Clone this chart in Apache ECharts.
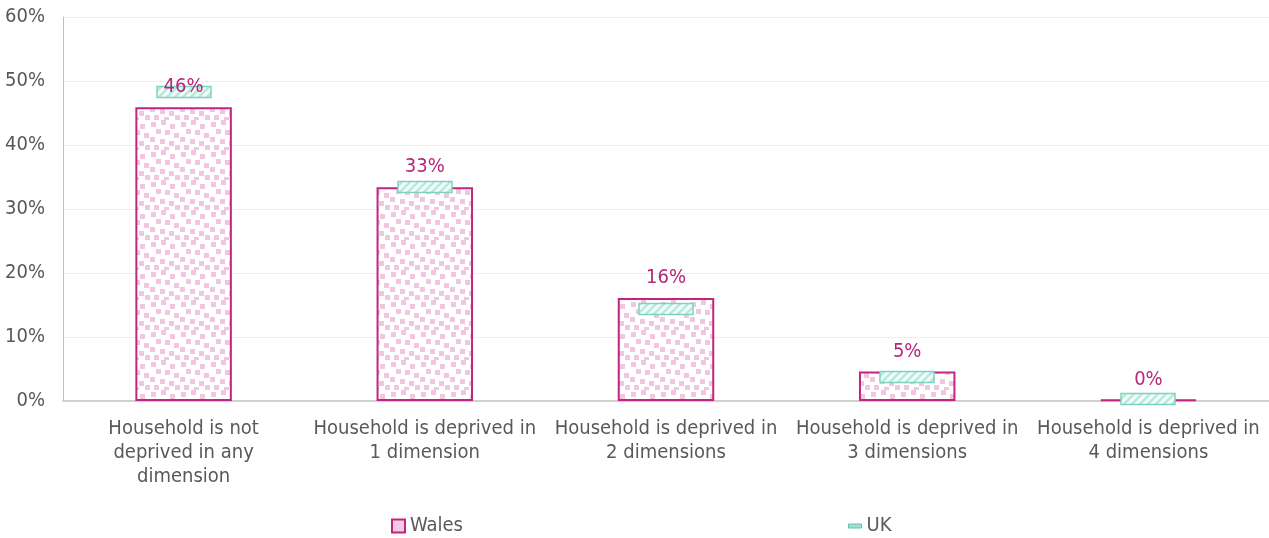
<!DOCTYPE html>
<html>
<head>
<meta charset="utf-8">
<script src="https://cdn.jsdelivr.net/npm/echarts@6/dist/echarts.min.js"></script>
<style>
  html, body { margin: 0; padding: 0; background: #fff; }
  #chart { width: 1269px; height: 538px; }
</style>
</head>
<body>
<div id="chart"></div>
<script>
// data
var categories = [
  'Household is not\ndeprived in any\ndimension',
  'Household is deprived in\n1 dimension',
  'Household is deprived in\n2 dimensions',
  'Household is deprived in\n3 dimensions',
  'Household is deprived in\n4 dimensions'
];
var walesValues = [45.9, 33.4, 16.1, 4.6, 0.2];
var ukValues = [48.3, 33.5, 14.4, 3.8, 0.3];
var yTicks = [0, 10, 20, 30, 40, 50, 60];

var FONT = '"DejaVu Sans Condensed", "DejaVu Sans", sans-serif';

// pink dotted fill for Wales bars
function dotPattern() {
  var c = document.createElement('canvas');
  c.width = 30; c.height = 30;
  var ctx = c.getContext('2d');
  ctx.fillStyle = '#ffffff';
  ctx.fillRect(0, 0, 30, 30);
  ctx.fillStyle = '#f2c6e1';
  var pts = [[1, 2], [11, 0], [20, 4], [6, 9], [15, 10], [24, 13], [0, 17], [10, 19], [19, 21], [4, 25], [14, 27], [25, 25]];
  pts.forEach(function (p) { ctx.fillRect(p[0], p[1], 5, 5); });
  return c;
}
// teal diagonal hatching for UK markers
function hatchPattern() {
  var c = document.createElement('canvas');
  c.width = 8; c.height = 8;
  var ctx = c.getContext('2d');
  ctx.fillStyle = '#f4fcfa';
  ctx.fillRect(0, 0, 8, 8);
  ctx.strokeStyle = '#b8e9dc';
  ctx.lineWidth = 2.5;
  ctx.beginPath();
  ctx.moveTo(-2, 10); ctx.lineTo(10, -2);
  ctx.moveTo(-6, 6); ctx.lineTo(6, -6);
  ctx.moveTo(2, 14); ctx.lineTo(14, 2);
  ctx.stroke();
  return c;
}

var ukPattern = hatchPattern();
var ukData = ukValues.map(function (v, i) { return [i, v]; });

var myChart = echarts.init(document.getElementById('chart'));
myChart.setOption({
  animation: false,
  grid: { left: 63, right: 0, top: 17, bottom: 137 },
  legend: {
    bottom: -3,
    left: 386,
    itemGap: 385,
    itemWidth: 13,
    itemHeight: 13,
    textStyle: { color: '#595959', fontSize: 20, fontFamily: FONT },
    data: [
      { name: 'Wales', icon: 'rect', itemStyle: { color: '#f3cbe4', borderColor: '#c0267f', borderWidth: 2 } },
      { name: 'UK', icon: 'path://M0,0H13V4H0Z', itemStyle: { color: '#9fe0d0', borderColor: '#5fc7b0', borderWidth: 1 } }
    ]
  },
  xAxis: {
    type: 'category',
    data: categories,
    axisTick: { show: false },
    axisLine: { lineStyle: { color: '#d0d0d0', width: 2 } },
    axisLabel: {
      interval: 0,
      color: '#595959',
      fontSize: 20,
      lineHeight: 24,
      margin: 16,
      fontFamily: FONT
    }
  },
  yAxis: {
    type: 'value',
    min: 0,
    max: 60,
    interval: 10,
    axisLine: { show: true, lineStyle: { color: '#bfbfbf' } },
    axisTick: { show: false },
    splitLine: { lineStyle: { color: '#efefef' } },
    axisLabel: {
      color: '#595959',
      fontSize: 20,
      margin: 18,
      fontFamily: FONT,
      formatter: function (v) { return yTicks.indexOf(v) >= 0 ? v + '%' : ''; }
    }
  },
  series: [
    {
      name: 'Wales',
      type: 'bar',
      data: walesValues,
      barWidth: '40%',
      z: 2,
      itemStyle: {
        color: { image: dotPattern(), repeat: 'repeat' },
        borderColor: '#c0267f',
        borderWidth: 2
      }
    },
    {
      name: 'UK',
      type: 'custom',
      data: ukData,
      encode: { x: 0, y: 1 },
      z: 3,
      itemStyle: { color: '#9fe0d0' },
      renderItem: function (params, api) {
        var p = api.coord([api.value(0), api.value(1)]);
        return {
          type: 'rect',
          shape: { x: Math.round(p[0]) - 27, y: Math.round(p[1]) - 5.5, width: 54, height: 11 },
          style: {
            fill: { image: ukPattern, repeat: 'repeat' },
            stroke: '#7fd2bf',
            lineWidth: 1.5
          }
        };
      }
    },
    {
      // Wales value labels, drawn above the UK markers
      name: 'WalesLabels',
      type: 'scatter',
      data: walesValues,
      symbolSize: 0,
      z: 5,
      silent: true,
      itemStyle: { opacity: 1 },
      label: {
        show: true,
        position: 'top',
        distance: 10,
        color: '#b5287a',
        fontSize: 20,
        fontFamily: FONT,
        formatter: function (p) { return Math.round(p.value) + '%'; }
      }
    }
  ]
});
</script>
</body>
</html>
